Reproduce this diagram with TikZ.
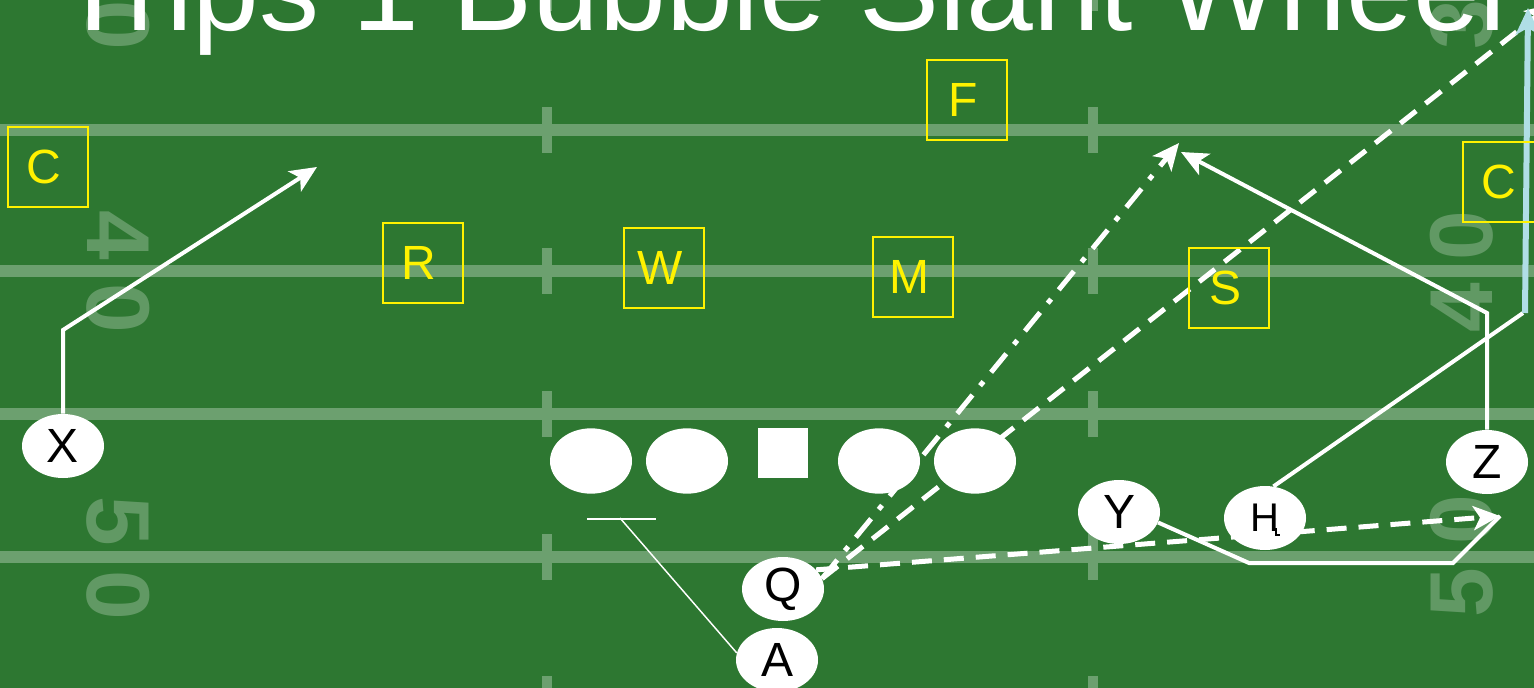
\documentclass[tikz,border=0pt]{standalone}
\usepackage{fontspec}
\setmainfont{Liberation Sans}
\usetikzlibrary{arrows.meta,shapes.geometric}
\pgfdeclarelayer{field}
\pgfdeclarelayer{routes}
\pgfsetlayers{field,routes,main}
\definecolor{grass}{RGB}{45,119,49}
\definecolor{routeblue}{RGB}{176,222,230}
\begin{document}
\begin{tikzpicture}[x=0.75pt,y=-0.75pt,
  player/.style={ellipse, fill=white, draw=none, inner sep=0pt, minimum width=61.5pt, minimum height=48pt, text=black, font=\fontsize{36}{36}\selectfont},
  lineman/.style={ellipse, fill=white, inner sep=0pt, minimum width=61.5pt, minimum height=49pt},
  centersq/.style={rectangle, fill=white, inner sep=0pt, minimum size=37.5pt},
  defender/.style={rectangle, draw=yellow, line width=1.1pt, inner sep=0pt, minimum size=60pt, text=yellow, font=\fontsize{36}{36}\selectfont, execute at end node={\hspace{6pt}}},
  route/.style={white, line width=3pt},
  tip/.style={-{Stealth[length=20pt,width=18pt,inset=5pt]}},
  dashroute/.style={white, line width=3.75pt, dash pattern=on 15pt off 9pt},
  dashdotroute/.style={white, line width=3.75pt, dash pattern=on 18pt off 9pt on 4pt off 9pt},
  fieldnum/.style={font=\bfseries\fontsize{67}{67}\selectfont, text=white, opacity=0.25, inner sep=0pt},
  calloutline/.style={white, line width=1.1pt},
  fieldline/.style={white, opacity=0.3}]
\useasboundingbox (0,0) rectangle (1534,688);

% ---------- field ----------
\begin{pgfonlayer}{field}
\clip (0,0) rectangle (1534,688);
\fill[grass] (0,0) rectangle (1534,688);
\foreach \yl in {-12,130,271,414,557,699}{
  \fill[fieldline] (0,\yl-6) rectangle (1534,\yl+6);
  \foreach \xh in {547,1093}{
    \fill[fieldline] (\xh-5,\yl-23) rectangle (\xh+5,\yl-6);
    \fill[fieldline] (\xh-5,\yl+6) rectangle (\xh+5,\yl+23);
  }
}
\node[fieldnum, rotate=-90] (nla) at (118,25) {0};
\node[fieldnum, rotate=-90] (nlb) at (118,235) {4};
\node[fieldnum, rotate=-90] (nlc) at (118,308) {0};
\node[fieldnum, rotate=-90] (nld) at (118,521) {5};
\node[fieldnum, rotate=-90] (nle) at (118,595) {0};
\node[fieldnum, rotate=90] (nra) at (1462,25) {3};
\node[fieldnum, rotate=90] (nrb) at (1462,236) {0};
\node[fieldnum, rotate=90] (nrc) at (1462,308) {4};
\node[fieldnum, rotate=90] (nrd) at (1462,520) {0};
\node[fieldnum, rotate=90] (nre) at (1462,593) {5};
\end{pgfonlayer}

% ---------- title ----------
\node[anchor=base, text=white, inner sep=0pt, font=\fontsize{90}{96}\selectfont] (title) at (782,31) {Trips 1 Bubble Slant Wheel};

% ---------- defense ----------
\node[defender] (CL) at (48,167) {C};
\node[defender] (R) at (423,263) {R};
\node[defender] (W) at (664,268) {W};
\node[defender] (M) at (913,277) {M};
\node[defender] (F) at (967,100) {F};
\node[defender] (S) at (1229,288) {S};
\node[defender] (CR) at (1503,182) {C};

% ---------- offense ----------
\node[player] (X) at (63,446) {X};
\node[lineman] (LT) at (591,461) {};
\node[lineman] (LG) at (687,461) {};
\node[centersq] (CT) at (783,453) {};
\node[lineman] (RG) at (879,461) {};
\node[lineman] (RT) at (975,461) {};
\node[player] (Q) at (783,589) {Q};
\node[player] (A) at (777,660) {A};
\node[player] (Y) at (1119,512) {Y};
\node[player, font=\fontsize{30}{30}\selectfont] (H) at (1265,518) {H};
\node[player] (Z) at (1487,462) {Z};
\draw[black, line width=0.8pt] ([shift={(11,10)}]H.center) -- ++(0,7) -- ++(4,0);

% ---------- routes ----------
\coordinate (xbr) at (61,330);
\coordinate (xend) at (317,167);
\coordinate (ddend) at (1179,143);
\coordinate (dlend) at (1552,4);
\coordinate (zarrow) at (1500,516);
\coordinate (ycA) at (1249,563);
\coordinate (ycB) at (1453,563);
\coordinate (zc) at (1490,313);
\coordinate (zend) at (1181,152);
\coordinate (hc) at (1523,313);
\coordinate (hb) at (1525,313);
\coordinate (hend) at (1528,8);
\coordinate (clA) at (587,519);
\coordinate (clB) at (656,519);
\coordinate (clM) at (620,518);

\begin{pgfonlayer}{routes}
\draw[route, tip] (X.north) -- (X.north |- xbr) -- (xend);
\draw[dashdotroute, tip] (Q.15) -- (ddend);
\draw[dashroute, tip] (Q.15) -- (dlend);
\draw[dashroute, tip] (Q.30) -- (zarrow);
\draw[route] (Y.-15) -- (ycA) -- (ycB) -- (zarrow);
\draw[route, tip] (Z.north) -- (Z.north |- zc) -- (zend);
\draw[route] (H.75) -- (hc);
\draw[routeblue, line width=4.5pt, -{Stealth[length=20pt,width=18pt,inset=5pt]}] (hb) -- (hend);
\draw[calloutline] (clA) -- (clB);
\draw[calloutline] (clM) -- (A.170);
\end{pgfonlayer}
\end{tikzpicture}
\end{document}
